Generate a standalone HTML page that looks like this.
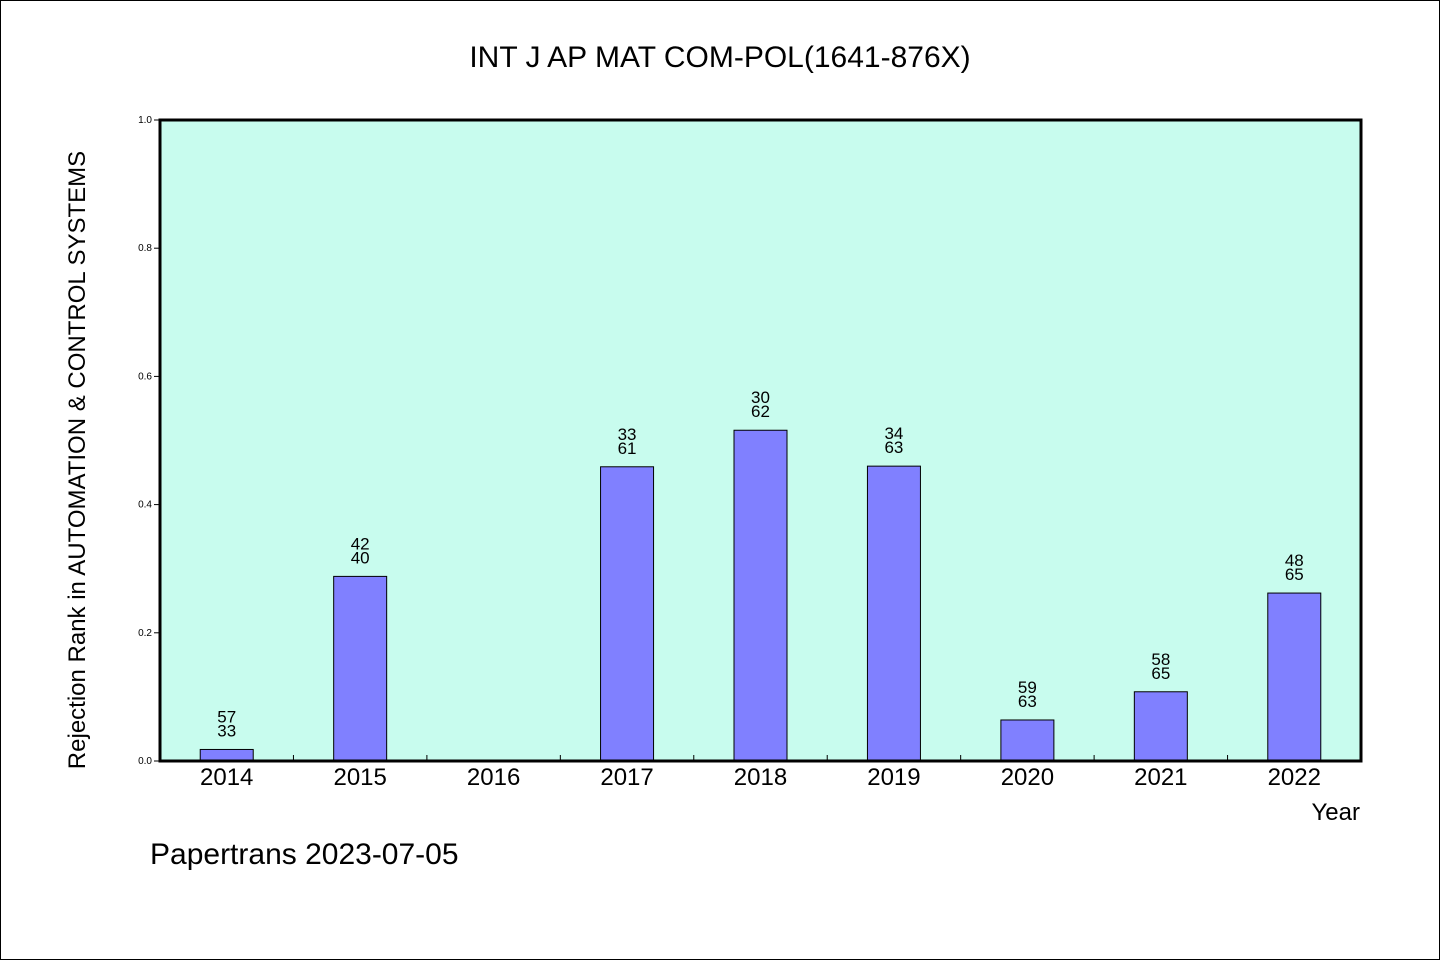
<!DOCTYPE html>
<html><head><meta charset="utf-8"><style>
html,body{margin:0;padding:0;background:#fff;}
svg{display:block;}
text{font-family:"WenQuanYi Zen Hei","Liberation Sans",sans-serif;fill:#000;}
</style></head><body>
<svg id="chart" width="1440" height="960">
<rect x="0.5" y="0.5" width="1439" height="959" fill="#fff" stroke="#000"/>
<text x="720" y="67" text-anchor="middle" font-size="30">INT J AP MAT COM-POL(1641-876X)</text>
<rect x="160" y="120" width="1201" height="641" fill="#c8fcee"/>
<g id="bars"></g>
<g id="axes"></g>
<rect x="160" y="120" width="1201" height="641" fill="none" stroke="#000" stroke-width="3"/>
<text transform="translate(85,460) rotate(-90)" text-anchor="middle" font-size="24">Rejection Rank in AUTOMATION &amp; CONTROL SYSTEMS</text>
<text x="1360" y="820" text-anchor="end" font-size="24">Year</text>
<text x="150" y="864" font-size="30">Papertrans 2023-07-05</text>
</svg>
<script>
const categories = ["2014","2015","2016","2017","2018","2019","2020","2021","2022"];
const values = [0.018, 0.288, 0, 0.459, 0.516, 0.460, 0.064, 0.108, 0.262];
const labelTop = ["57","42","","33","30","34","59","58","48"];
const labelBottom = ["33","40","","61","62","63","63","65","65"];
const yTicks = [0, 0.2, 0.4, 0.6, 0.8, 1.0];
const yTickLabels = ["0.0","0.2","0.4","0.6","0.8","1.0"];
const X0=160, X1=1361, Y0=761, Y1=120;
const slot=(X1-X0)/categories.length;
const xC=i=>X0+slot*(i+0.5);
const yS=v=>Y0-(v-0)/(1-0)*(Y0-Y1);
const NS="http://www.w3.org/2000/svg";
const bars=document.getElementById('bars'), axes=document.getElementById('axes');
function mk(tag,attrs,parent){const e=document.createElementNS(NS,tag);for(const k in attrs)e.setAttribute(k,attrs[k]);parent.appendChild(e);return e;}
categories.forEach((c,i)=>{
  const v=values[i];
  if(v>0){
    const r=mk('rect',{x:xC(i)-26.5,y:yS(v),width:53,height:Y0-yS(v),fill:'#8080ff',stroke:'#000','stroke-width':1},bars);
    
    
  }
  if(labelTop[i]){
    const t1=mk('text',{x:xC(i),y:yS(v)-27,'text-anchor':'middle','font-size':17},bars);
    t1.textContent=labelTop[i];
    
    
    const t2=mk('text',{x:xC(i),y:yS(v)-13,'text-anchor':'middle','font-size':17},bars);
    t2.textContent=labelBottom[i];
    
    
  }
  const xl=mk('text',{x:xC(i),y:785,'text-anchor':'middle','font-size':24},axes);
  xl.textContent=c;
  
  
  if(i>0){
    const tk=mk('line',{x1:X0+slot*i,x2:X0+slot*i,y1:Y0,y2:Y0-6,stroke:'#000','stroke-width':1},axes);
    
    
  }
});
yTicks.forEach((v,i)=>{
  const y=yS(v);
  const tk=mk('line',{x1:X0-6,x2:X0,y1:y,y2:y,stroke:'#000','stroke-width':1},axes);
  
  
  const t=mk('text',{x:X0-8,y:y+3,'text-anchor':'end','font-size':10},axes);
  t.textContent=yTickLabels[i];
  
  
});
</script>
</body></html>
